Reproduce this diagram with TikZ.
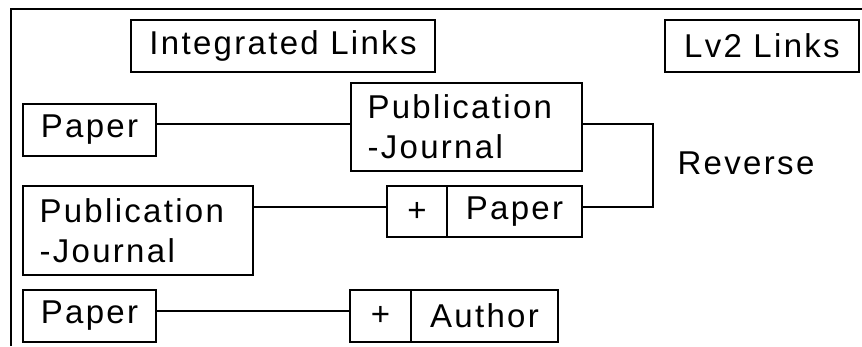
\documentclass[tikz,border=0pt]{standalone}
\usepackage{fontspec}
\setmainfont{Liberation Sans}[LetterSpace=7]
\begin{document}
\begin{tikzpicture}[x=1pt,y=-1pt,
  box/.style={draw,line width=2pt,rectangle,inner sep=0pt,
    font=\fontsize{33}{40}\selectfont},
  twoline/.style={box,align=left,text width=#1},
  link/.style={line width=2pt}]
\useasboundingbox (0,0) rectangle (862,346);
% outer frame (top and left sides only)
\draw[line width=1.5pt] (11,346) -- (11,9) -- (862,9);
% headings
\node[box,minimum width=304pt,minimum height=52pt] (intl) at (283,46) {Integrated Links};
\node[box,minimum width=194pt,minimum height=52pt] (lv2) at (762,46) {Lv2 Links};
% row 1
\node[box,minimum width=133pt,minimum height=52pt] (p1) at (89.5,130) {Paper};
\node[twoline=197pt,minimum width=231pt,minimum height=88pt] (pj1) at (466,127) {Publication\\-Journal};
% row 2
\node[twoline=197pt,minimum width=230pt,minimum height=89pt] (pj2) at (138,230.5) {Publication\\-Journal};
\node[box,minimum width=60pt,minimum height=51pt] (plus2) at (417,211.5) {+};
\node[box,minimum width=135pt,minimum height=51pt] (paper2) at (514.5,211.5) {Paper};
% row 3
\node[box,minimum width=133pt,minimum height=52pt] (p3) at (89.5,316) {Paper};
\node[box,minimum width=61pt,minimum height=52pt] (plus3) at (380.5,316) {+};
\node[box,minimum width=147pt,minimum height=52pt] (auth) at (484.5,316) {Author};
% side label
\node[font=\fontsize{33}{40}\selectfont,inner sep=0pt] (rev) at (746,163) {Reverse};
% connectors
\draw[link] ([yshift=6pt]p1.east) -- ([yshift=6pt]p1.east -| pj1.west);
\coordinate (turn) at (653,124);
\draw[link] ([yshift=3pt]pj1.east) -| (turn) -- (turn |- 0,207) -- (paper2.east |- 0,207);
\draw[link] (pj2.east |- 0,207) -- (plus2.west |- 0,207);
\draw[link] ([yshift=5pt]p3.east) -- ([yshift=5pt]p3.east -| plus3.west);
\end{tikzpicture}
\end{document}
